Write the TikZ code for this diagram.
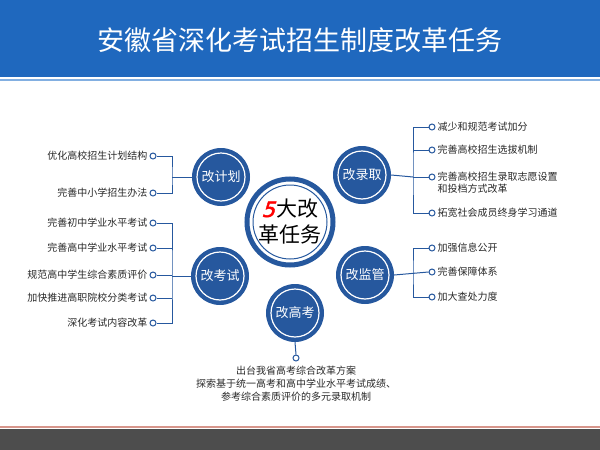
\documentclass[tikz,border=0pt]{standalone}
\usepackage{fontspec}
\usetikzlibrary{positioning}
\setmainfont{Noto Sans CJK SC}
\newfontfamily\numfont{DejaVu Sans}[FakeSlant=0.3,FakeBold=2]
\definecolor{bandblue}{RGB}{31,104,190}
\definecolor{lineblue}{RGB}{130,175,225}
\definecolor{ringblue}{RGB}{38,88,158}
\definecolor{itemgray}{RGB}{40,40,40}
\definecolor{footgray}{RGB}{77,77,77}
\definecolor{footline}{RGB}{215,150,140}
\begin{document}
\begin{tikzpicture}[x=1pt, y=-1pt,
    task/.style={circle, fill=ringblue, minimum size=58pt, inner sep=0, text=white, font=\fontsize{13}{13}\selectfont},
    dot/.style={circle, draw=ringblue, fill=white, line width=1pt, inner sep=0, minimum size=6pt},
    item/.style={text=itemgray, inner sep=1pt, font=\fontsize{10}{12}\selectfont},
    conn/.style={draw=ringblue, line width=1pt}]
  \useasboundingbox (0,0) rectangle (600,450);

  % Banner and footer
  \fill[bandblue] (0,0) rectangle (600,77);
  \fill[lineblue] (0,79) rectangle (600,81);
  \node[text=white, font=\fontsize{27}{27}\selectfont] (title) at (300,40) {安徽省深化考试招生制度改革任务};
  \draw[footline, line width=1.5pt] (0,427) -- (600,427);
  \fill[footgray] (0,429) rectangle (600,450);

  % Hub
  \node[circle, fill=white, draw=ringblue, line width=5pt, minimum size=86pt, inner sep=0,
        align=center, font=\fontsize{21}{26}\selectfont] (hub) at (290,222)
        {{\numfont\color{red}5}\hspace{2pt}大改\\革任务};
  \draw[ringblue, line width=1pt] (hub) circle (37);

  % Task circles
  \foreach \n/\x/\y/\t in {plan/221/177/改计划, admit/362/175/改录取, exam/220/276/改考试,
                           watch/365/275/改监管, gaokao/295/313/改高考} {
    \node[task] (\n) at (\x,\y) {\t};
    \draw[white, line width=1.2pt] (\n) circle (24);
  }

  % Left items
  \foreach \y/\t/\n in {156/优化高校招生计划结构/p1, 193/完善中小学招生办法/p2,
                        223/完善初中学业水平考试/e1, 248/完善高中学业水平考试/e2,
                        275/规范高中学生综合素质评价/e3, 298/加快推进高职院校分类考试/e4,
                        323/深化考试内容改革/e5} {
    \node[dot] (\n) at (153,\y) {};
    \node[item, left=1pt of \n] {\t};
  }
  \coordinate (jp) at (172,177);
  \coordinate (je) at (172,276);
  \draw[conn] (p1.east) -| (jp) |- (p2.east);
  \draw[conn] (jp) -- (plan.west);
  \draw[conn] (e1.east) -| (je) |- (e5.east);
  \foreach \n in {e2,e3,e4} \draw[conn] (\n.east) -- (\n.east -| je);
  \draw[conn] (je) -- (exam.west);

  % Right items
  \foreach \y/\t/\n in {127/减少和规范考试加分/r1, 150/完善高校招生选拔机制/r2,
                        213/拓宽社会成员终身学习通道/r4,
                        248/加强信息公开/w1, 272/完善保障体系/w2, 297/加大查处力度/w3} {
    \node[dot] (\n) at (432,\y) {};
    \node[item, right=1pt of \n] {\t};
  }
  \node[dot] (r3) at (432,177) {};
  \node[item, align=left, right=1pt of r3, yshift=-6pt] {完善高校招生录取志愿设置\\和投档方式改革};
  \coordinate (ja) at (413,177);
  \coordinate (jw) at (413,272);
  \draw[conn] (r1.west) -| (ja) |- (r4.west);
  \foreach \n in {r2,r3} \draw[conn] (\n.west) -- (\n.west -| ja);
  \draw[conn] (ja) -- (admit.east);
  \draw[conn] (w1.west) -| (jw) |- (w3.west);
  \draw[conn] (w2.west) -- (watch.east);

  % Gaokao item
  \node[dot] (g) at (296,358) {};
  \draw[conn] (gaokao.south) -- (g.north);
  \node[item, align=center, below=3pt of g, font=\fontsize{10}{13}\selectfont] (gtext)
    {出台我省高考综合改革方案\\探索基于统一高考和高中学业水平考试成绩、\\参考综合素质评价的多元录取机制};
\end{tikzpicture}
\end{document}
